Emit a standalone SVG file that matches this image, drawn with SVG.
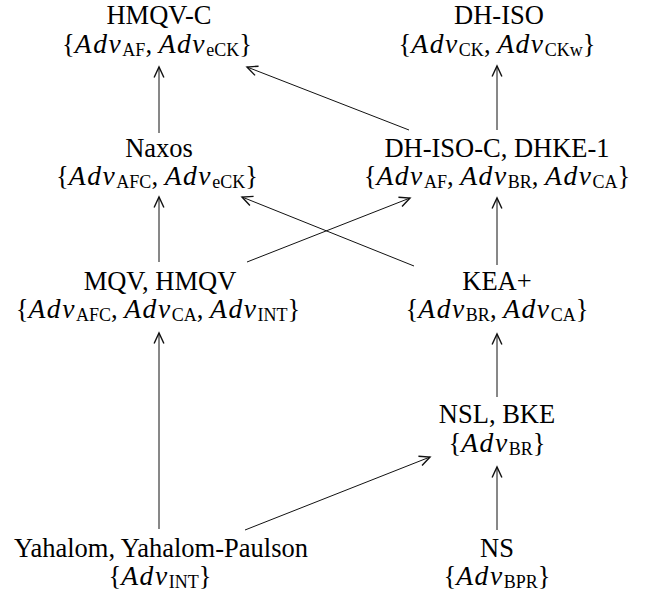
<svg xmlns="http://www.w3.org/2000/svg" width="646" height="594" viewBox="0 0 646 594">
<defs>
<style>
.t{font-family:"Liberation Serif","Times New Roman",serif;font-size:26.5px;fill:#000;text-anchor:middle}
.m{font-family:"Liberation Serif","Times New Roman",serif;font-size:26.5px;fill:#000;text-anchor:middle}
.a{font-style:italic;font-size:27.5px;letter-spacing:1.6px}
.s{font-size:18px}
.e{stroke:#111;stroke-width:1;fill:none;marker-end:url(#ah)}
</style>
<marker id="ah" markerUnits="userSpaceOnUse" markerWidth="14" markerHeight="14" viewBox="-8 -5 10 10" refX="0" refY="0" orient="auto">
<path d="M-7.5,-3.5 L0,0 L-7.5,3.5" fill="none" stroke="#111" stroke-width="1"/>
</marker>
</defs>
<rect width="646" height="594" fill="#fff"/>
<g id="connectors">
<line class="e" x1="159" y1="133" x2="159" y2="67"/>
<line class="e" x1="497" y1="130" x2="497" y2="66"/>
<line class="e" x1="409" y1="130" x2="247" y2="67"/>
<line class="e" x1="159" y1="262" x2="159" y2="197"/>
<line class="e" x1="497" y1="265" x2="497" y2="198"/>
<line class="e" x1="247" y1="262" x2="410" y2="198"/>
<line class="e" x1="414" y1="266" x2="242" y2="197"/>
<line class="e" x1="159" y1="529" x2="159" y2="333"/>
<line class="e" x1="497" y1="397" x2="497" y2="334"/>
<line class="e" x1="497" y1="530" x2="497" y2="467"/>
<line class="e" x1="245" y1="530" x2="430" y2="457"/>
</g>
<g id="n-hmqvc">
<text class="t" x="159" y="23.5">HMQV-C</text>
<text class="m" x="157" y="53">{<tspan class="a">Adv</tspan><tspan class="s" dy="3">AF</tspan><tspan dy="-3">, </tspan><tspan class="a">Adv</tspan><tspan class="s" dy="3">eCK</tspan><tspan dy="-3">}</tspan></text>
</g>
<g id="n-dhiso">
<text class="t" x="499" y="23.5">DH-ISO</text>
<text class="m" x="497" y="53">{<tspan class="a">Adv</tspan><tspan class="s" dy="3">CK</tspan><tspan dy="-3">, </tspan><tspan class="a">Adv</tspan><tspan class="s" dy="3">CKw</tspan><tspan dy="-3">}</tspan></text>
</g>
<g id="n-naxos">
<text class="t" x="159" y="157">Naxos</text>
<text class="m" x="157" y="185">{<tspan class="a">Adv</tspan><tspan class="s" dy="3">AFC</tspan><tspan dy="-3">, </tspan><tspan class="a">Adv</tspan><tspan class="s" dy="3">eCK</tspan><tspan dy="-3">}</tspan></text>
</g>
<g id="n-dhisoc">
<text class="t" x="497" y="157">DH-ISO-C, DHKE-1</text>
<text class="m" x="497" y="185">{<tspan class="a">Adv</tspan><tspan class="s" dy="3">AF</tspan><tspan dy="-3">, </tspan><tspan class="a">Adv</tspan><tspan class="s" dy="3">BR</tspan><tspan dy="-3">, </tspan><tspan class="a">Adv</tspan><tspan class="s" dy="3">CA</tspan><tspan dy="-3">}</tspan></text>
</g>
<g id="n-mqv">
<text class="t" x="160" y="290">MQV, HMQV</text>
<text class="m" x="158" y="318">{<tspan class="a">Adv</tspan><tspan class="s" dy="3">AFC</tspan><tspan dy="-3">, </tspan><tspan class="a">Adv</tspan><tspan class="s" dy="3">CA</tspan><tspan dy="-3">, </tspan><tspan class="a">Adv</tspan><tspan class="s" dy="3">INT</tspan><tspan dy="-3">}</tspan></text>
</g>
<g id="n-kea">
<text class="t" x="497" y="290">KEA+</text>
<text class="m" x="497" y="318">{<tspan class="a">Adv</tspan><tspan class="s" dy="3">BR</tspan><tspan dy="-3">, </tspan><tspan class="a">Adv</tspan><tspan class="s" dy="3">CA</tspan><tspan dy="-3">}</tspan></text>
</g>
<g id="n-nsl">
<text class="t" x="497" y="423">NSL, BKE</text>
<text class="m" x="497" y="452">{<tspan class="a">Adv</tspan><tspan class="s" dy="3">BR</tspan><tspan dy="-3">}</tspan></text>
</g>
<g id="n-yah">
<text class="t" x="161" y="557">Yahalom, Yahalom-Paulson</text>
<text class="m" x="160" y="585">{<tspan class="a">Adv</tspan><tspan class="s" dy="3">INT</tspan><tspan dy="-3">}</tspan></text>
</g>
<g id="n-ns">
<text class="t" x="497" y="557">NS</text>
<text class="m" x="497" y="585">{<tspan class="a">Adv</tspan><tspan class="s" dy="3">BPR</tspan><tspan dy="-3">}</tspan></text>
</g>
</svg>
